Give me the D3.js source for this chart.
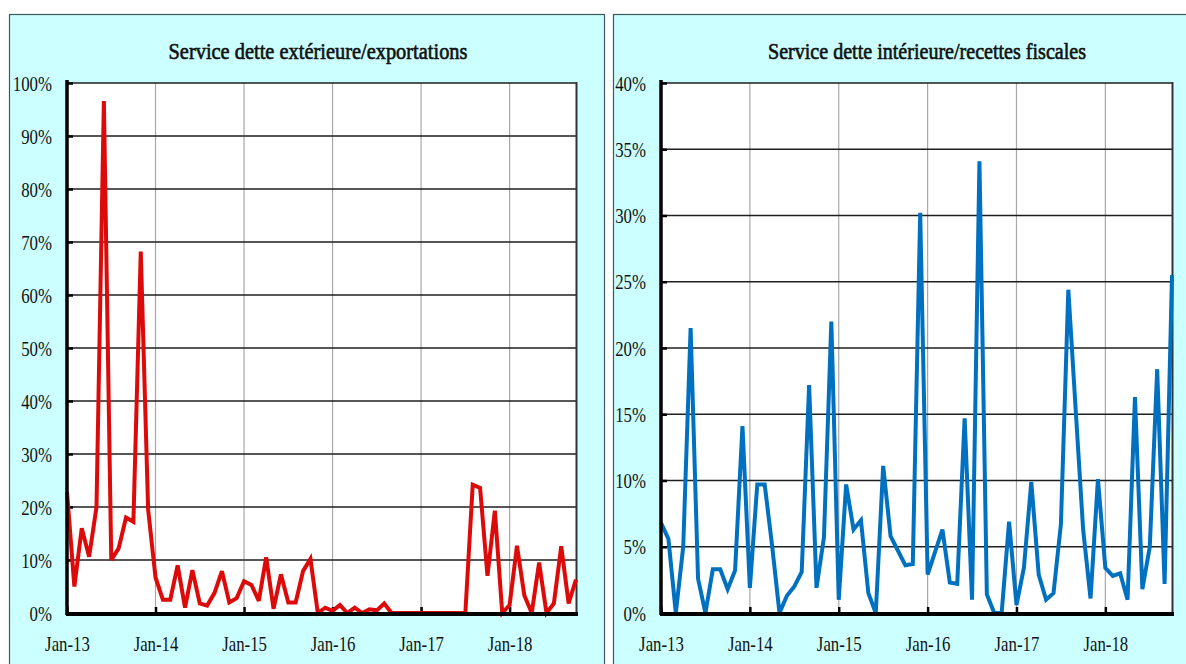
<!DOCTYPE html>
<html><head><meta charset="utf-8">
<script src="https://cdn.jsdelivr.net/npm/d3@7"></script>
<style>
html,body{margin:0;padding:0;background:#fff;}
svg{display:block;}
text{font-family:"Liberation Serif","DejaVu Serif",serif;fill:#111;}
</style></head>
<body>
<svg id="c" width="1186" height="664"></svg>
<script>
// Monthly series, Jan-13 .. Oct-18 (70 months), values in %
const yearTickLabels = ["Jan-13","Jan-14","Jan-15","Jan-16","Jan-17","Jan-18"];
const extTitle = "Service dette extérieure/exportations";
const intTitle = "Service dette intérieure/recettes fiscales";
const extTicks = [0,10,20,30,40,50,60,70,80,90,100];
const intTicks = [0,5,10,15,20,25,30,35,40];
const extValues = [
  22.8, 5.0, 16.0, 10.6, 20.0, 96.6, 10.0, 12.2, 18.0, 17.2, 68.2, 19.5,
  6.7, 2.5, 2.5, 9.0, 1.0, 8.1, 1.8, 1.4, 3.8, 7.9, 2.0, 2.8,
  6.0, 5.3, 2.3, 10.5, 0.8, 7.3, 2.0, 2.0, 7.9, 10.2, 0.0, 1.0,
  0.4, 1.5, 0.0, 1.0, 0.0, 0.7, 0.5, 1.8, 0.0, 0.0, 0.0, 0.0,
  0.0, 0.0, 0.0, 0.0, 0.0, 0.0, 0.0, 24.2, 23.6, 7.0, 19.3, 0.0,
  1.5, 12.7, 3.3, 0.0, 9.5, 0.0, 1.8, 12.6, 1.8, 6.3
];
const intValues = [
  6.8, 5.6, 0.0, 5.0, 21.5, 2.6, 0.0, 3.3, 3.3, 1.8, 3.2, 14.1,
  1.9, 9.7, 9.7, 5.1, 0.0, 1.3, 2.0, 3.1, 17.2, 1.9, 5.7, 22.0,
  1.0, 9.7, 6.3, 7.0, 1.5, 0.0, 11.1, 5.8, 4.7, 3.6, 3.7, 30.2,
  2.9, 4.6, 6.3, 2.3, 2.2, 14.7, 1.0, 34.1, 1.4, 0.0, 0.0, 6.9,
  0.6, 3.4, 9.9, 2.9, 1.0, 1.5, 6.7, 24.4, 15.3, 6.3, 1.1, 10.1,
  3.4, 2.8, 3.0, 1.0, 16.3, 1.8, 5.0, 18.4, 2.2, 25.5
];

const svg = d3.select("#c");

function condense(sel, k){
  sel.each(function(){
    const L = this.getComputedTextLength();
    d3.select(this).attr("textLength", L*k).attr("lengthAdjust","spacingAndGlyphs");
  });
}

function panel(opts){
  const g = svg.append("g");
  // panel background
  g.append("rect").attr("x",opts.px).attr("y",opts.py).attr("width",opts.pw).attr("height",opts.ph)
    .attr("fill","#ccffff").attr("stroke","#3c5a5a").attr("stroke-width",1.2);
  // title
  g.append("text").attr("x",opts.tx).attr("y",opts.ty).attr("text-anchor","middle")
    .attr("font-size",23).attr("stroke","#111").attr("stroke-width",0.65)
    .attr("textLength",opts.tw).attr("lengthAdjust","spacingAndGlyphs").text(opts.title);

  const x = d3.scaleLinear().domain([0, opts.values.length-1]).range([opts.x0, opts.x1]);
  const y = d3.scaleLinear().domain([0, opts.ymax]).range([opts.y0, opts.y1]);

  // plot area
  g.append("rect").attr("x",opts.x0).attr("y",opts.y1).attr("width",opts.x1-opts.x0).attr("height",opts.y0-opts.y1)
    .attr("fill","#fff");
  // vertical grid (January ticks)
  const janIdx = yearTickLabels.map((d,i)=>i*12);
  g.selectAll(".vg").data(janIdx.slice(1)).join("line")
    .attr("x1",d=>x(d)).attr("x2",d=>x(d)).attr("y1",opts.y1).attr("y2",opts.y0)
    .attr("stroke","#a8a8a8").attr("stroke-width",1.2);
  // horizontal grid
  g.selectAll(".hg").data(opts.ticks.slice(1)).join("line")
    .attr("x1",opts.x0).attr("x2",opts.x1).attr("y1",d=>y(d)).attr("y2",d=>y(d))
    .attr("stroke","#1e1e1e").attr("stroke-width",1.6);
  // right border
  g.append("line").attr("x1",opts.x1+0.5).attr("x2",opts.x1+0.5).attr("y1",opts.y1-1).attr("y2",opts.y0+2)
    .attr("stroke","#333").attr("stroke-width",2);

  // y axis
  const ya = d3.axisLeft(y).tickValues(opts.ticks).tickFormat(d=>d+"%").tickSize(-6).tickPadding(15);
  const yg = g.append("g").attr("transform",`translate(${opts.x0},0)`).call(ya);
  yg.select(".domain").remove();
  yg.selectAll(".tick line").attr("stroke","#000").attr("stroke-width",2.5);
  yg.selectAll(".tick text").attr("font-size",21).attr("fill","#111")
    .attr("font-family","'Liberation Serif',serif").attr("x",-15).attr("dy","0.34em");
  condense(yg.selectAll(".tick text"), 0.8);
  // x axis
  const xa = d3.axisBottom(x).tickValues(janIdx).tickFormat((d,i)=>yearTickLabels[i]).tickSize(-6).tickPadding(23);
  const xg = g.append("g").attr("transform",`translate(0,${opts.y0})`).call(xa);
  xg.select(".domain").remove();
  xg.selectAll(".tick line").attr("stroke","#000").attr("stroke-width",2.5);
  xg.selectAll(".tick text").attr("font-size",21).attr("fill","#111")
    .attr("font-family","'Liberation Serif',serif");
  condense(xg.selectAll(".tick text"), 0.8);

  // series line
  const line = d3.line().x((d,i)=>x(i)).y(d=>y(d));
  g.append("path").datum(opts.values).attr("d",line).attr("fill","none")
    .attr("stroke",opts.color).attr("stroke-width",4).attr("stroke-linejoin","miter").attr("stroke-miterlimit",3);

  // axis lines (thick)
  g.append("line").attr("x1",opts.x0).attr("x2",opts.x0).attr("y1",opts.y1-3).attr("y2",opts.y0+2)
    .attr("stroke","#000").attr("stroke-width",3.5);
  g.append("line").attr("x1",opts.x0-1).attr("x2",opts.x1+2).attr("y1",opts.y0+1).attr("y2",opts.y0+1)
    .attr("stroke","#000").attr("stroke-width",4);
}

panel({px:9.5,py:14.5,pw:595,ph:670,tx:318,ty:59,tw:299,title:extTitle,
  x0:67,x1:576,y0:613,y1:83,ymax:100,ticks:extTicks,values:extValues,color:"#dd0a0a"});
panel({px:613.5,py:14.5,pw:590,ph:670,tx:927,ty:59,tw:318,title:intTitle,
  x0:661,x1:1172,y0:613,y1:83,ymax:40,ticks:intTicks,values:intValues,color:"#0070c0"});
</script>
</body></html>
